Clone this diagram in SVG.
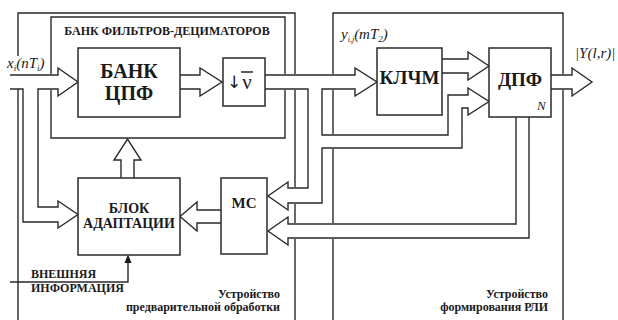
<svg xmlns="http://www.w3.org/2000/svg" width="618" height="320" viewBox="0 0 618 320">
<style>
.ln{fill:none;stroke:#2a2a2a;stroke-width:1.4;stroke-linejoin:miter}
.bx{fill:#fff;stroke:#2a2a2a;stroke-width:1.5}
.b{font-family:"Liberation Serif","Times New Roman",serif;font-weight:bold;fill:#1a1a1a}
.i{font-family:"Liberation Serif","Times New Roman",serif;font-style:italic;fill:#1a1a1a}
.m{text-anchor:middle}
.e{text-anchor:end}
</style>
<rect width="618" height="320" fill="#fff"/>
<g id="containers">
<path class="ln" d="M18,56 V13 H295 V74 M295,90 V187 M295,204 V223 M295,239 V320 M18,89 V320"/>
<path class="ln" d="M51,74 V17 H285 V74 M285,90 V138 H51 V90"/>
<path class="ln" d="M333,74 V13 H563 V74 M563,90 V320 M333,90 V134 M333,149 V223 M333,239 V320"/>
<text class="b m" x="167" y="35" font-size="12">БАНК ФИЛЬТРОВ-ДЕЦИМАТОРОВ</text>
<text class="b e" x="280" y="298" font-size="12">Устройство</text>
<text class="b e" x="280" y="311" font-size="12">предварительной обработки</text>
<text class="b e" x="548" y="298" font-size="12">Устройство</text>
<text class="b e" x="548" y="311" font-size="12">формирования РЛИ</text>
</g>
<g id="connectors">
<path class="ln" d="M10,75 H58 V68 L78,82 L58,96 V89 H38 V207 H58 V201 L78,214.5 L58,228 V222 H23 V89 H10"/>
<path class="ln" d="M180,75 H200 V68 L222,82 L200,96 V89 H180"/>
<path class="ln" d="M265,75 H355 V68 L377,82 L355,96 V89 H322 V135 H448 V95 H468 V88 L489,101.5 L468,115 V108 H462 V148 H322 V203 H288 V210 L268,196 L288,182 V188 H308 V89 H265"/>
<path class="ln" d="M442,59 H468 V52 L489,66 L468,80 V73 H442"/>
<path class="ln" d="M551,75 H572 V68 L592,82 L572,96 V89 H551"/>
<path class="ln" d="M516,117 V224 H288 V217 L268,231 L288,245 V238 H529 V117"/>
<path class="ln" d="M221,210 H197 V202 L180,216.5 L197,231 V223 H221"/>
<path class="ln" d="M121,178 V160 H114 L127.5,139 L141,160 H134 V178"/>
<path class="ln" d="M10,282 H128 V262"/>
<polygon points="124.5,263 128,254.5 131.5,263" fill="#1a1a1a"/>
<text class="b" x="31" y="278" font-size="12">ВНЕШНЯЯ</text>
<text class="b" x="31" y="292" font-size="12">ИНФОРМАЦИЯ</text>
<text class="i" x="7" y="68" font-size="15">x<tspan font-size="9" dy="3">i</tspan><tspan dy="-3">(nT</tspan><tspan font-size="9" dy="3">i</tspan><tspan dy="-3">)</tspan></text>
<text class="i" x="341" y="39" font-size="15">y<tspan font-size="8" dy="3">i,j</tspan><tspan dy="-3">(mT</tspan><tspan font-size="9" dy="3">2</tspan><tspan dy="-3">)</tspan></text>
<text class="i" x="575" y="58" font-size="15">|Y(l,r)|</text>
</g>
<g id="bank">
<rect class="bx" x="78" y="48" width="102" height="69"/>
<text class="b m" x="129" y="78" font-size="20">БАНК</text>
<text class="b m" x="129" y="100" font-size="20">ЦПФ</text>
</g>
<g id="decim">
<rect class="bx" x="223" y="58" width="42" height="48"/>
<text x="234" y="88" font-size="17" font-family="'DejaVu Sans',sans-serif" class="m" fill="#1a1a1a">↓</text>
<text x="247" y="89" font-size="21" font-family="'Liberation Serif',serif" class="m" fill="#1a1a1a">ν</text>
<line x1="241" y1="72" x2="253" y2="72" stroke="#1a1a1a" stroke-width="1.4"/>
</g>
<g id="klchm">
<rect class="bx" x="377" y="48" width="65" height="67"/>
<text class="b m" x="409.5" y="84" font-size="19">КЛЧМ</text>
</g>
<g id="dpf">
<rect class="bx" x="489" y="48" width="62" height="69"/>
<text class="b m" x="520" y="86" font-size="19">ДПФ</text>
<text class="i" x="537" y="110" font-size="13">N</text>
</g>
<g id="adapt">
<rect class="bx" x="78" y="178" width="102" height="77"/>
<text class="b m" x="129" y="213" font-size="14">БЛОК</text>
<text class="b m" x="129" y="228" font-size="14">АДАПТАЦИИ</text>
</g>
<g id="mc">
<rect class="bx" x="221" y="178" width="46" height="76"/>
<text class="b m" x="244" y="208" font-size="15">МС</text>
</g>
</svg>
